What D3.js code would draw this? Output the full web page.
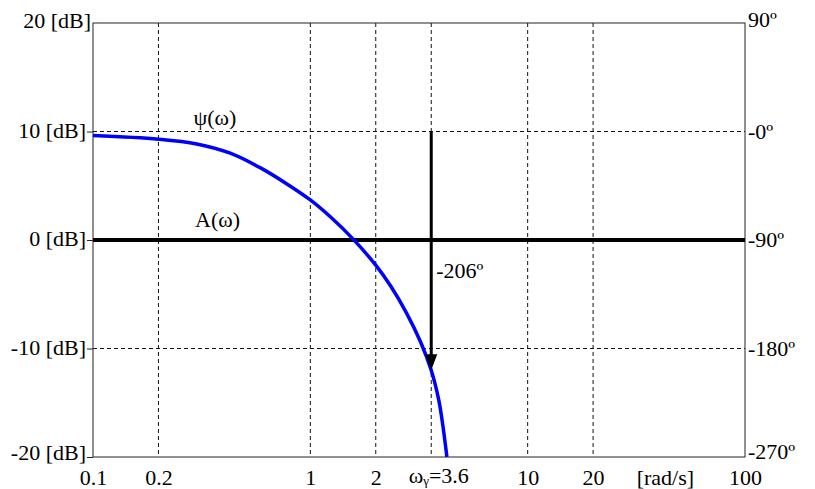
<!DOCTYPE html>
<html lang="en">
	<head>
		<meta charset="utf-8">
		<title>Bode phase</title>
		<script type="text/javascript" src="https://cdn.jsdelivr.net/npm/d3@7"></script>
		<style type="text/css">
			body {
				margin: 0;
				background: white;
			}
			text {
				font-family: "Liberation Serif", "Times New Roman", serif;
				font-size: 22px;
				fill: black;
			}
		</style>
	</head>
	<body>
		<script type="text/javascript">

			//Width and height
			var w = 815;
			var h = 489;
			var margin = {top: 23, right: 70, bottom: 32, left: 93};

			//Data
			var omega = [0.1, 0.2, 0.3, 0.425, 0.59, 0.78, 1, 1.25, 1.57, 2, 2.35, 2.76, 3.22, 3.6, 3.9, 4.07, 4.25];
			var phase = [-3.4, -6.4, -10.3, -17.8, -30.2, -43.5, -56.8, -71.6, -89.1, -110.9, -128.6, -150, -174.8, -198, -222.8, -243.7, -270];

			var freqTicks = [0.1, 0.2, 1, 2, 3.6, 10, 20, 100];
			var gridFreqs = [0.2, 1, 2, 3.6, 10, 20];
			var dbTicks = [-20, -10, 0, 10, 20];
			var gridDb = [-10, 10];
			var phaseTicks = [-270, -180, -90, 0, 90];

			var omegaGamma = 3.6;
			var phaseGamma = -198;
			var phaseLabel = "-206º";

			var svg = d3.select("body")
						.append("svg")
						.attr("width", w)
						.attr("height", h);

			//Scales
			var xScale = d3.scaleLog()
							.domain([0.1, 100])
							.range([margin.left, w - margin.right]);

			var yDb = d3.scaleLinear()
							.domain([-20, 20])
							.range([h - margin.bottom, margin.top]);

			var yPhase = d3.scaleLinear()
							.domain([-270, 90])
							.range([h - margin.bottom, margin.top]);

			//Grid lines
			svg.append("g")
				.selectAll("line")
				.data(gridFreqs)
				.enter()
				.append("line")
				.attr("x1", function(d) { return xScale(d); })
				.attr("x2", function(d) { return xScale(d); })
				.attr("y1", yDb(20))
				.attr("y2", yDb(-20))
				.attr("stroke", "#111")
				.attr("stroke-width", 1)
				.attr("stroke-dasharray", "4,3");

			svg.append("g")
				.selectAll("line")
				.data(gridDb)
				.enter()
				.append("line")
				.attr("x1", xScale(0.1))
				.attr("x2", xScale(100))
				.attr("y1", function(d) { return yDb(d); })
				.attr("y2", function(d) { return yDb(d); })
				.attr("stroke", "#111")
				.attr("stroke-width", 1)
				.attr("stroke-dasharray", "4,3");

			//Frame
			svg.append("rect")
				.attr("x", xScale(0.1))
				.attr("y", yDb(20))
				.attr("width", xScale(100) - xScale(0.1))
				.attr("height", yDb(-20) - yDb(20))
				.attr("fill", "none")
				.attr("stroke", "#222")
				.attr("stroke-width", 1);

			//A(w) line at 0 dB
			svg.append("line")
				.attr("x1", xScale(0.1))
				.attr("x2", xScale(100))
				.attr("y1", yDb(0))
				.attr("y2", yDb(0))
				.attr("stroke", "black")
				.attr("stroke-width", 4);

			//Left axis
			var leftAxis = svg.append("g")
				.attr("transform", "translate(" + margin.left + ",0)")
				.call(d3.axisLeft(yDb)
					.tickValues(dbTicks)
					.tickSize(6)
					.tickPadding(1)
					.tickFormat(function(d) { return d + " [dB]"; }));
			leftAxis.select(".domain").remove();
			leftAxis.selectAll("line").attr("stroke", "#222");
			leftAxis.selectAll("text").attr("fill", "black").attr("font-size", 22).attr("font-family", null).attr("dy", "0.25em");
			var topTick = leftAxis.selectAll(".tick").filter(function(d) { return d == 20; });
			topTick.select("line").remove();
			topTick.select("text").attr("x", -2).attr("dy", "0.2em");
			leftAxis.selectAll(".tick").filter(function(d) { return d == -20; })
				.select("text").attr("dy", "0.1em");

			//Right axis
			var rightAxis = svg.append("g")
				.attr("transform", "translate(" + (w - margin.right) + ",0)")
				.call(d3.axisRight(yPhase)
					.tickValues(phaseTicks)
					.tickSize(0)
					.tickPadding(3)
					.tickFormat(function(d) { return (d == 0 ? "-0" : d) + "º"; }));
			rightAxis.select(".domain").remove();
			rightAxis.selectAll("text").attr("fill", "black").attr("font-size", 22).attr("font-family", null).attr("dy", "0.3em");
			rightAxis.selectAll(".tick").filter(function(d) { return d == 90; })
				.select("text").attr("dy", "0.18em");
			rightAxis.selectAll(".tick").filter(function(d) { return d == -270; })
				.select("text").attr("dy", "0.05em");

			//Bottom axis
			var bottomAxis = svg.append("g")
				.attr("transform", "translate(0," + (h - margin.bottom) + ")")
				.call(d3.axisBottom(xScale)
					.tickValues(freqTicks)
					.tickSize(0)
					.tickPadding(12)
					.tickFormat(function(d) { return d; }));
			bottomAxis.select(".domain").remove();
			bottomAxis.selectAll("text").attr("fill", "black").attr("font-size", 22).attr("font-family", null);

			//omega_gamma label
			var gammaText = bottomAxis.selectAll(".tick")
				.filter(function(d) { return d == omegaGamma; })
				.select("text")
				.text(null)
				.attr("dx", 7)
				.attr("dy", "0.65em");
			gammaText.append("tspan").text("ω");
			gammaText.append("tspan").text("γ").attr("font-size", 13).attr("dy", 2);
			gammaText.append("tspan").text("=" + omegaGamma).attr("dy", -2);

			bottomAxis.append("text")
				.attr("x", xScale(43))
				.attr("y", 12)
				.attr("dy", "0.71em")
				.attr("text-anchor", "middle")
				.text("[rad/s]");

			//Phase curve
			var line = d3.line()
				.x(function(d) { return xScale(d[0]); })
				.y(function(d) { return yPhase(d[1]); })
				.curve(d3.curveCatmullRom.alpha(0.5));

			svg.append("path")
				.datum(d3.zip(omega, phase))
				.attr("d", line)
				.attr("fill", "none")
				.attr("stroke", "#0000ff")
				.attr("stroke-width", 3.5);

			//Arrow at omega_gamma
			var ax = xScale(omegaGamma);
			var tip = yPhase(phaseGamma);
			svg.append("line")
				.attr("x1", ax)
				.attr("x2", ax)
				.attr("y1", yPhase(0))
				.attr("y2", tip - 10)
				.attr("stroke", "black")
				.attr("stroke-width", 3);

			svg.append("path")
				.attr("d", "M" + (ax - 6) + "," + (tip - 16) + "L" + (ax + 6) + "," + (tip - 16) + "L" + ax + "," + tip + "Z")
				.attr("fill", "black");

			svg.append("text")
				.attr("x", ax + 5)
				.attr("y", yDb(-3.5))
				.text(phaseLabel);

			//Curve labels
			svg.append("text")
				.attr("x", xScale(0.29))
				.attr("y", yDb(10) - 7)
				.text("ψ(ω)");

			svg.append("text")
				.attr("x", xScale(0.295))
				.attr("y", yDb(0) - 13)
				.text("A(ω)");

		</script>
	</body>
</html>
